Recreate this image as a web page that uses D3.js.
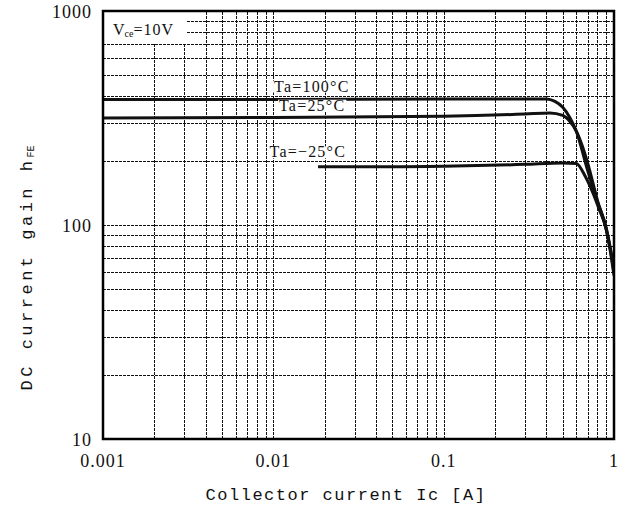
<!DOCTYPE html>
<html>
<head>
<meta charset="utf-8">
<script src="https://cdn.jsdelivr.net/npm/d3@7"></script>
<style>
  body { margin: 0; background: #fff; }
  text { fill: #111; }
</style>
</head>
<body>
<svg id="chart" width="620" height="517"></svg>
<script>
// collector current [A] and hFE
const ic100 = [0.001, 0.01, 0.1, 0.4, 0.45, 0.5, 0.55, 0.6, 0.7, 0.8, 0.9, 0.95, 1.0];
const hfe100 = [386, 386, 388, 388, 378, 355, 318, 275, 180, 128, 97, 78, 60];

const ic25 = [0.001, 0.01, 0.1, 0.3, 0.42, 0.5, 0.55, 0.6, 0.65, 0.7, 0.8, 0.9, 0.95, 1.0];
const hfe25 = [316, 318, 322, 330, 334, 325, 305, 275, 235, 195, 130, 95, 76, 58];

const icM25 = [0.0183, 0.05, 0.1, 0.3, 0.5, 0.6, 0.68, 0.75, 0.82, 0.9, 0.95, 1.0];
const hfeM25 = [187, 187, 188, 192, 195, 194, 168, 142, 118, 96, 78, 62];

const seriesNames = ["Ta=100°C", "Ta=25°C", "Ta=−25°C"];
const xTicks = [0.001, 0.01, 0.1, 1];
const xTickLabels = ["0.001", "0.01", "0.1", "1"];
const yTicks = [10, 100, 1000];
const yTickLabels = ["10", "100", "1000"];

const margin = {left: 103, right: 6, top: 11, bottom: 78};
const W = 620, H = 517;
const serif = "'Liberation Serif', serif";
const mono = "'Liberation Mono', monospace";

const svg = d3.select("svg#chart");

const x = d3.scaleLog()
    .domain([0.001, 1])
    .range([margin.left, W - margin.right]);
const y = d3.scaleLog()
    .domain([10, 1000])
    .range([H - margin.bottom, margin.top]);

// minor grid 1..9 per decade
const gridX = [], gridY = [];
[0.001, 0.01, 0.1].forEach(d => d3.range(1, 10).forEach(k => gridX.push(d * k)));
[10, 100].forEach(d => d3.range(1, 10).forEach(k => gridY.push(d * k)));

const grid = svg.append("g");
grid.selectAll("line.gx")
    .data(gridX.slice(1))
    .enter()
    .append("line")
    .attr("x1", d => Math.round(x(d)) + 0.5).attr("x2", d => Math.round(x(d)) + 0.5)
    .attr("y1", y(10)).attr("y2", y(1000))
    .attr("stroke", "#111")
    .attr("stroke-width", 1)
    .attr("stroke-dasharray", "3,1");
grid.selectAll("line.gy")
    .data(gridY.slice(1))
    .enter()
    .append("line")
    .attr("x1", x(0.001)).attr("x2", x(1))
    .attr("y1", d => Math.round(y(d)) + 0.5).attr("y2", d => Math.round(y(d)) + 0.5)
    .attr("stroke", "#111")
    .attr("stroke-width", 1)
    .attr("stroke-dasharray", "3,1");

// curves
const series = [
    {name: seriesNames[0], ic: ic100, h: hfe100},
    {name: seriesNames[1], ic: ic25, h: hfe25},
    {name: seriesNames[2], ic: icM25, h: hfeM25}
];

svg.append("clipPath").attr("id", "plot")
    .append("rect")
    .attr("x", x(0.001)).attr("y", y(1000))
    .attr("width", x(1) - x(0.001))
    .attr("height", y(10) - y(1000));

const line = d3.line()
    .x(d => x(d[0]))
    .y(d => y(d[1]))
    .curve(d3.curveMonotoneX);

svg.append("g")
    .attr("clip-path", "url(#plot)")
    .selectAll("path")
    .data(series)
    .enter()
    .append("path")
    .attr("d", s => line(s.ic.map((v, i) => [v, s.h[i]])))
    .attr("fill", "none")
    .attr("stroke", "#111")
    .attr("stroke-width", 3);

// curve labels with white backing
const labels = [
    {text: seriesNames[0], ic: 0.0101, h: 420},
    {text: seriesNames[1], ic: 0.0108, h: 342},
    {text: seriesNames[2], ic: 0.0095, h: 207}
];
const lg = svg.append("g");
labels.forEach(l => {
    const g = lg.append("g");
    const bg = g.append("rect").attr("fill", "#fff");
    const t = g.append("text")
        .attr("x", x(l.ic))
        .attr("y", y(l.h))
        .style("font-family", serif)
        .attr("font-size", 16)
        .attr("letter-spacing", 1.2)
        .text(l.text);
    const b = t.node().getBBox();
    bg.attr("x", b.x - 1).attr("y", b.y + 3)
        .attr("width", b.width + 2).attr("height", b.height - 5);
});

// Vce box
svg.append("rect")
    .attr("x", x(0.001)).attr("y", y(1000))
    .attr("width", 83).attr("height", 32)
    .attr("fill", "#fff");
const vce = svg.append("text")
    .attr("x", x(0.001) + 10)
    .attr("y", y(1000) + 24)
    .style("font-family", serif)
    .attr("font-size", 16);
vce.append("tspan").text("V");
vce.append("tspan").attr("font-size", 10).attr("dy", 2).text("ce");
vce.append("tspan").attr("dy", -2).attr("letter-spacing", 1).text("=10V");

// frame
svg.append("rect")
    .attr("x", x(0.001)).attr("y", y(1000))
    .attr("width", x(1) - x(0.001))
    .attr("height", y(10) - y(1000))
    .attr("fill", "none")
    .attr("stroke", "#000")
    .attr("stroke-width", 2.5);

// tick labels
svg.append("g")
    .selectAll("text")
    .data(xTicks)
    .enter()
    .append("text")
    .attr("x", d => x(d))
    .attr("y", y(10) + 28)
    .attr("text-anchor", "middle")
    .style("font-family", serif)
    .attr("font-size", 18)
    .attr("letter-spacing", 1)
    .text((d, i) => xTickLabels[i]);

svg.append("g")
    .selectAll("text")
    .data(yTicks)
    .enter()
    .append("text")
    .attr("x", x(0.001) - 11)
    .attr("y", d => y(d) + 7)
    .attr("text-anchor", "end")
    .style("font-family", serif)
    .attr("font-size", 18)
    .attr("letter-spacing", 1)
    .text((d, i) => yTickLabels[i]);

// axis titles
svg.append("text")
    .attr("x", 346)
    .attr("y", 500)
    .attr("text-anchor", "middle")
    .style("font-family", mono)
    .attr("font-size", 17)
    .attr("letter-spacing", 1.5)
    .text("Collector current Ic [A]");

const yl = svg.append("text")
    .attr("transform", "translate(32,268) rotate(-90)")
    .attr("text-anchor", "middle")
    .style("font-family", mono)
    .attr("font-size", 17)
    .attr("letter-spacing", 3.5);
yl.append("tspan").text("DC current gain h");
yl.append("tspan").attr("font-size", 10).attr("dy", 2).attr("letter-spacing", 0).text("FE");
</script>
</body>
</html>
